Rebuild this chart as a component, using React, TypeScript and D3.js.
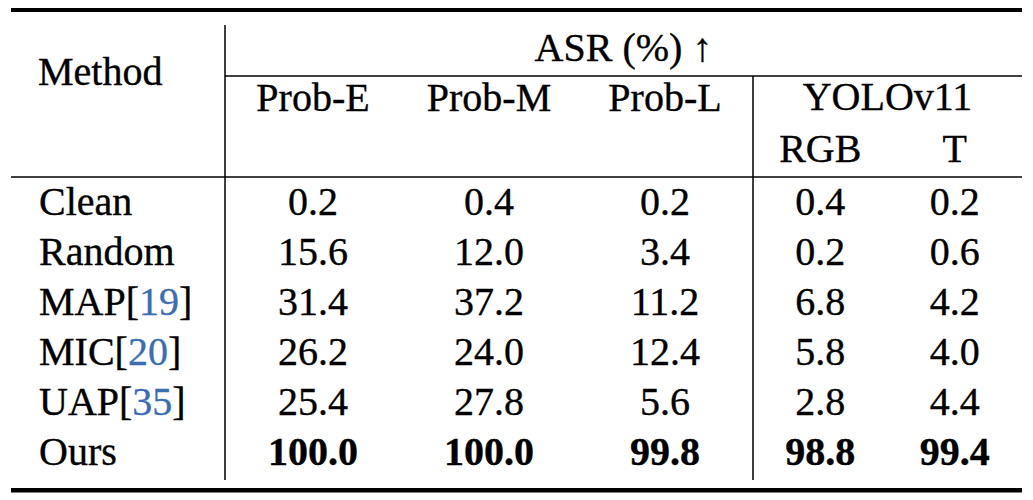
import React from "react";
import * as d3 from "d3";

const methods = ["Clean", "Random", "MAP", "MIC", "UAP", "Ours"];
const citations = ["", "", "19", "20", "35", ""];
const probCols = ["Prob-E", "Prob-M", "Prob-L"];
const yoloCols = ["RGB", "T"];
const probE = [0.2, 15.6, 31.4, 26.2, 25.4, 100.0];
const probM = [0.4, 12.0, 37.2, 24.0, 27.8, 100.0];
const probL = [0.2, 3.4, 11.2, 12.4, 5.6, 99.8];
const yoloRGB = [0.4, 0.2, 6.8, 5.8, 2.8, 98.8];
const yoloT = [0.2, 0.6, 4.2, 4.0, 4.4, 99.4];
const boldRow = "Ours";

const W = 1033;
const H = 500;
const FONT = "'Liberation Serif', 'Times New Roman', serif";
const FS = 40;
const BLUE = "#3B6DB3";

export default function App() {
  const left = 11;
  const right = 1022;
  const split1 = 225;
  const split2 = 753;

  const xProb = d3.scaleBand<string>().domain(probCols).range([split1, split2]);
  const xYolo = d3.scaleBand<string>().domain(yoloCols).range([split2, right]);
  const y = d3.scalePoint<string>().domain(methods).range([215, 465]);

  const colX = (c: string) =>
    probCols.includes(c)
      ? (xProb(c) as number) + xProb.bandwidth() / 2
      : (xYolo(c) as number) + xYolo.bandwidth() / 2;

  const seriesByCol: Record<string, number[]> = {
    "Prob-E": probE,
    "Prob-M": probM,
    "Prob-L": probL,
    RGB: yoloRGB,
    T: yoloT,
  };
  const fmt = d3.format(".1f");
  const allCols = [...probCols, ...yoloCols];

  return (
    <svg
      width={W}
      height={H}
      style={{ position: "absolute", left: 0, top: 0, background: "#fff" }}
      fontFamily={FONT}
      fontSize={FS}
      stroke="#000"
      strokeWidth={0.35}
    >
      <rect x={0} y={0} width={W} height={H} fill="#fff" stroke="none" />
      {/* top and bottom rules */}
      <rect x={left} y={8} width={right - left} height={4} fill="#000" stroke="none" />
      <rect x={left} y={488} width={right - left} height={4.5} fill="#000" stroke="none" />
      {/* cmidrule under ASR */}
      <line x1={split1} x2={right} y1={76} y2={76} stroke="#000" strokeWidth={1.3} />
      {/* midrule */}
      <line x1={left} x2={right} y1={177} y2={177} stroke="#000" strokeWidth={1.6} />
      {/* vertical lines */}
      <line x1={split1} x2={split1} y1={25} y2={480} stroke="#000" strokeWidth={1.5} />
      <line x1={split2} x2={split2} y1={76} y2={480} stroke="#000" strokeWidth={1.5} />

      {/* header */}
      <text x={38} y={85}>Method</text>
      <text x={(split1 + right) / 2} y={61} textAnchor="middle">ASR (%) ↑</text>
      {probCols.map((c) => (
        <text key={c} x={colX(c)} y={111} textAnchor="middle">{c}</text>
      ))}
      <text x={(split2 + right) / 2} y={110} textAnchor="middle">YOLOv11</text>
      {yoloCols.map((c) => (
        <text key={c} x={colX(c)} y={162} textAnchor="middle">{c}</text>
      ))}

      {/* body */}
      {methods.map((m, i) => (
        <g key={m}>
          <text x={39} y={y(m)}>
            {m}
            {citations[i] ? (
              <>
                <tspan>[</tspan>
                <tspan fill={BLUE} stroke={BLUE}>{citations[i]}</tspan>
                <tspan>]</tspan>
              </>
            ) : null}
          </text>
          {allCols.map((c) => (
            <text
              key={c}
              x={colX(c)}
              y={y(m)}
              textAnchor="middle"
              fontWeight={m === boldRow ? "bold" : "normal"}
            >
              {fmt(seriesByCol[c][i])}
            </text>
          ))}
        </g>
      ))}
    </svg>
  );
}
